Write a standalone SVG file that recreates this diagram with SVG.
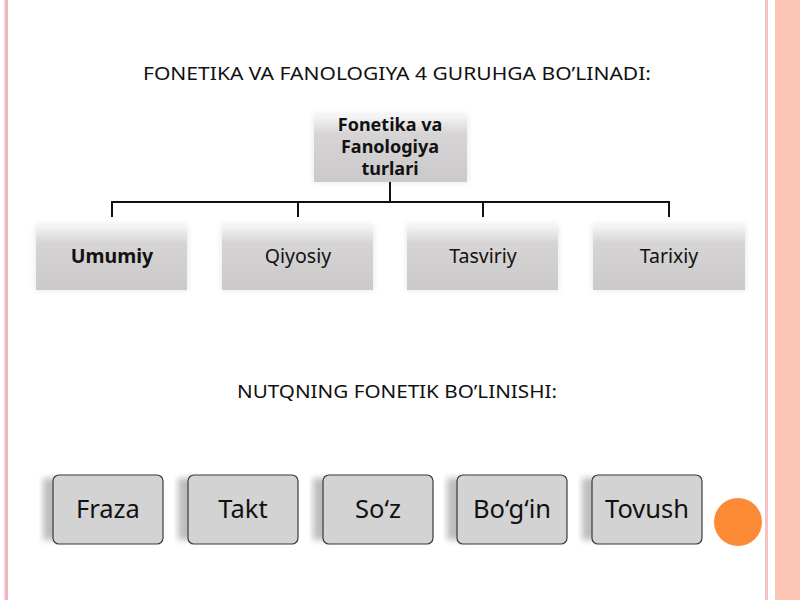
<svg xmlns="http://www.w3.org/2000/svg" width="800" height="600" viewBox="0 0 800 600">
<defs>
<linearGradient id="g1" x1="0" y1="0" x2="0" y2="1">
<stop offset="0" stop-color="#f7f7f7"/>
<stop offset="0.28" stop-color="#d6d4d4"/>
<stop offset="1" stop-color="#cbc9c9"/>
</linearGradient>
<filter id="blur" x="-20%" y="-20%" width="140%" height="140%"><feGaussianBlur stdDeviation="3"/></filter>
</defs>
<style>
.t{font-family:"Noto Sans","Open Sans","DejaVu Sans",sans-serif;fill:#111;text-anchor:middle}
.h{font-family:"Noto Sans","Open Sans",sans-serif;font-size:18px;fill:#111;text-anchor:middle}
.box{fill:url(#g1)}
.rb{fill:#d3d3d3;stroke:#3a3a3a;stroke-width:1.2}
.conn{stroke:#111;stroke-width:2;fill:none}
</style>
<rect width="800" height="600" fill="#ffffff"/>
<rect x="4.5" y="0" width="3.5" height="600" fill="#f4b7bb"/>
<rect x="765" y="0" width="3" height="600" fill="#f6c3c3"/>
<rect x="775" y="0" width="25" height="600" fill="#fdc5b5"/>
<text class="h" x="397" y="80" textLength="508" lengthAdjust="spacingAndGlyphs">FONETIKA VA FANOLOGIYA  4 GURUHGA BO’LINADI:</text>
<g id="root">
<rect x="314" y="115" width="153" height="67" fill="#cfcfcf" filter="url(#blur)" opacity="0.6"/>
<rect class="box" x="314" y="115" width="153" height="67"/>
<text class="t" x="390" y="131" font-size="18" font-weight="bold">Fonetika va</text>
<text class="t" x="390" y="153" font-size="18" font-weight="bold">Fanologiya</text>
<text class="t" x="390" y="175" font-size="18" font-weight="bold">turlari</text>
</g>
<g id="connectors">
<path class="conn" d="M390 182V202M112 217V202H669V217M298 202V217M483 202V217"/>
</g>
<g id="umumiy">
<rect x="36" y="225" width="151" height="65" fill="#cfcfcf" filter="url(#blur)" opacity="0.6"/>
<rect class="box" x="36" y="225" width="151" height="65"/>
<text class="t" x="112" y="263" font-size="19.5" font-weight="bold">Umumiy</text>
</g>
<g id="qiyosiy">
<rect x="222" y="225" width="151" height="65" fill="#cfcfcf" filter="url(#blur)" opacity="0.6"/>
<rect class="box" x="222" y="225" width="151" height="65"/>
<text class="t" x="298" y="263" font-size="19.5">Qiyosiy</text>
</g>
<g id="tasviriy">
<rect x="407" y="225" width="151" height="65" fill="#cfcfcf" filter="url(#blur)" opacity="0.6"/>
<rect class="box" x="407" y="225" width="151" height="65"/>
<text class="t" x="483" y="263" font-size="19.5">Tasviriy</text>
</g>
<g id="tarixiy">
<rect x="593" y="225" width="152" height="65" fill="#cfcfcf" filter="url(#blur)" opacity="0.6"/>
<rect class="box" x="593" y="225" width="152" height="65"/>
<text class="t" x="669" y="263" font-size="19.5">Tarixiy</text>
</g>
<text class="h" x="397" y="398" textLength="320" lengthAdjust="spacingAndGlyphs">NUTQNING FONETIK BO’LINISHI:</text>
<g id="fraza">
<rect x="43" y="478" width="20" height="62" fill="#bdbdbd" filter="url(#blur)"/>
<rect class="rb" x="53" y="475" width="110" height="69" rx="6"/>
<text class="t" x="108" y="518" font-size="25.5">Fraza</text>
</g>
<g id="takt">
<rect x="178" y="478" width="20" height="62" fill="#bdbdbd" filter="url(#blur)"/>
<rect class="rb" x="188" y="475" width="110" height="69" rx="6"/>
<text class="t" x="243" y="518" font-size="25.5">Takt</text>
</g>
<g id="soz">
<rect x="313" y="478" width="20" height="62" fill="#bdbdbd" filter="url(#blur)"/>
<rect class="rb" x="323" y="475" width="110" height="69" rx="6"/>
<text class="t" x="378" y="518" font-size="25.5">So‘z</text>
</g>
<g id="bogin">
<rect x="447" y="478" width="20" height="62" fill="#bdbdbd" filter="url(#blur)"/>
<rect class="rb" x="457" y="475" width="110" height="69" rx="6"/>
<text class="t" x="512" y="518" font-size="25.5">Bo‘g‘in</text>
</g>
<g id="tovush">
<rect x="582" y="478" width="20" height="62" fill="#bdbdbd" filter="url(#blur)"/>
<rect class="rb" x="592" y="475" width="110" height="69" rx="6"/>
<text class="t" x="647" y="518" font-size="25.5">Tovush</text>
</g>
<circle cx="738" cy="522" r="24" fill="#fd8a36"/>
</svg>
